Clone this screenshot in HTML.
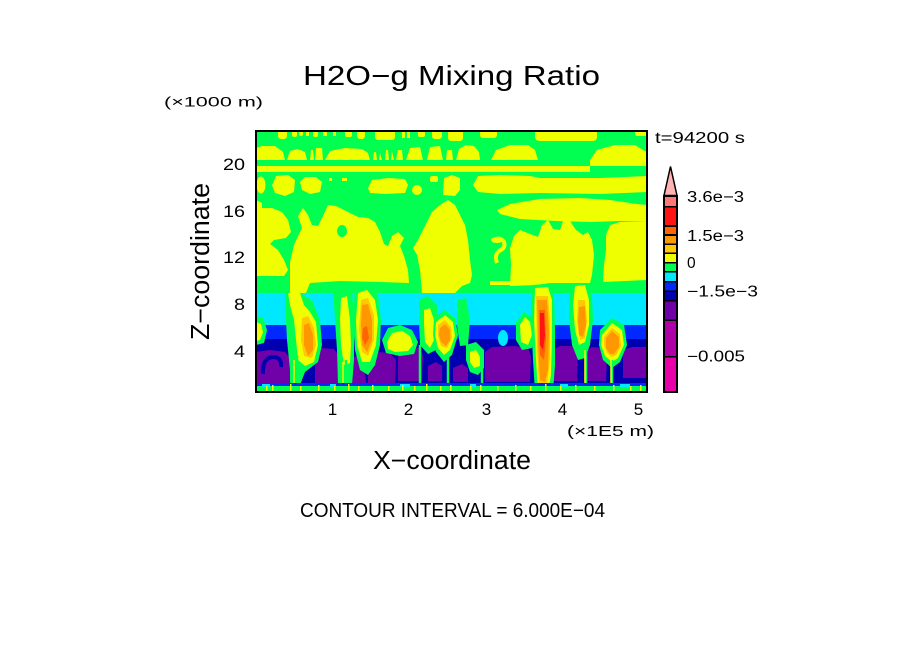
<!DOCTYPE html>
<html><head><meta charset="utf-8"><style>
html,body{margin:0;padding:0;background:#fff;width:904px;height:654px;overflow:hidden}
svg{display:block}
text{font-family:"Liberation Sans",sans-serif;fill:#000}
</style></head><body>
<svg width="904" height="654" viewBox="0 0 904 654" xmlns="http://www.w3.org/2000/svg">
<defs><clipPath id="pc"><rect x="256" y="131" width="391" height="261"/></clipPath></defs>
<g clip-path="url(#pc)">
<rect x="256" y="131" width="391" height="261" fill="#00ff50"/>
<g fill="#f0ff00">
<rect x="278" y="129" width="9" height="10" rx="3"/>
<rect x="292" y="129" width="5" height="8" rx="2"/>
<rect x="299" y="129" width="4" height="7" rx="2"/>
<rect x="306" y="131" width="3" height="5"/>
<rect x="313" y="129" width="5" height="8" rx="2"/>
<rect x="323" y="131" width="4" height="5"/>
<rect x="333" y="131" width="3" height="5"/>
<rect x="345" y="129" width="7" height="8" rx="2"/>
<rect x="357" y="129" width="8" height="10" rx="3"/>
<rect x="375" y="129" width="20" height="11" rx="3"/>
<rect x="402" y="131" width="3" height="7"/>
<rect x="407" y="131" width="3" height="7"/>
<rect x="418" y="129" width="7" height="8" rx="2"/>
<rect x="432" y="129" width="10" height="10" rx="3"/>
<rect x="448" y="129" width="15" height="12" rx="3"/>
<rect x="480" y="129" width="17" height="9" rx="3"/>
<rect x="535" y="129" width="62" height="12" rx="4"/>
<rect x="635" y="129" width="12" height="7" rx="2"/>

<path d="M256,160 L256,148 L262,146 L275,146 L283,152 L285,160 Z"/>
<path d="M287,160 L290,151 L298,149 L305,152 L307,160 Z"/>
<path d="M310,160 L311,150 L313,150 L314,160 Z"/>
<path d="M315,160 L316,148 L322,148 L323,160 Z"/>
<path d="M325,160 L330,151 L345,148 L362,149 L368,153 L370,160 Z"/>
<path d="M373,160 L374,152 L376,152 L377,160 Z"/>
<path d="M379,160 L380,153 L382,160 Z"/>
<path d="M385,160 L386,150 L388,150 L389,160 Z"/>
<path d="M391,160 L392,151 L394,160 Z"/>
<path d="M396,160 L398,150 L402,150 L403,160 Z"/>
<path d="M406,160 L410,148 L420,147 L423,160 Z"/>
<path d="M427,160 L430,147 L440,146 L443,160 Z"/>
<path d="M446,160 L447,150 L452,150 L453,160 Z"/>
<path d="M456,160 L459,149 L466,145 L474,146 L479,152 L480,160 Z"/>
<path d="M491,160 L496,150 L510,145 L528,145 L535,150 L538,160 Z"/>
<path d="M590,160 L597,150 L615,145 L635,145 L643,150 L647,152 L647,160 Z"/>

<rect x="256" y="166" width="334" height="6"/>
<rect x="590" y="160" width="57" height="6"/>

<ellipse cx="261" cy="185" rx="4.5" ry="8.5"/>
<path d="M272,185 L276,176 L288,175 L295,180 L294,192 L285,196 L275,193 Z"/>
<path d="M300,182 L305,177 L316,177 L322,182 L320,192 L310,194 L302,190 Z"/>
<rect x="329" y="178" width="3" height="3"/>
<rect x="342" y="178" width="5" height="3"/>
<path d="M368,188 L372,180 L388,178 L405,179 L408,185 L405,193 L385,194 L370,193 Z"/>
<circle cx="417" cy="190" r="5"/>
<rect x="430" y="176" width="8" height="6" rx="2"/>
<path d="M443,195 L444,178 L452,175 L460,178 L460,190 L455,196 Z"/>
<path d="M473,185 L478,176 L500,175 L530,176 L540,178 L600,178 L647,176 L647,192 L600,194 L540,193 L500,194 L478,192 Z"/>

<path d="M497,210 L510,204 L540,199 L580,198 L610,200 L637,204 L647,205 L647,222 L620,221 L590,222 L555,221 L520,219 L500,214 Z"/>

<path d="M256,200 L262,203 L262,208 L272,208 L282,212 L288,220 L291,232 L286,238 L274,240 L270,244 L278,250 L284,260 L288,270 L284,276 L256,276 Z"/>
<path d="M290,293 L290,262 L294,245 L298,236 L302,228 L298,216 L303,208 L308,215 L312,225 L318,226 L324,214 L328,205 L336,206 L346,211 L358,217 L368,218 L375,222 L380,232 L384,244 L388,246 L392,236 L398,232 L404,238 L400,246 L404,256 L408,270 L409,283 L380,282 L340,281 L310,283 L306,293 Z"/>
<path d="M422,293 L420,270 L417,255 L413,248 L418,240 L425,226 L432,212 L440,205 L448,200 L455,205 L460,215 L465,225 L468,240 L470,260 L472,275 L470,283 L462,286 L455,293 Z"/>
<ellipse cx="497" cy="240" rx="6" ry="3"/>
<path d="M510,286 L511,265 L510,248 L514,236 L520,230 L530,234 L538,237 L542,225 L548,220 L553,229 L560,230 L563,221 L570,221 L576,230 L583,235 L588,232 L592,240 L594,255 L592,275 L590,283 L550,283 L537,285 Z"/>
<path d="M603,282 L604,265 L606,250 L606,235 L610,225 L620,222 L647,222 L647,280 L625,281 Z"/>
<rect x="490" y="281" width="22" height="4"/>
</g>
<ellipse cx="342" cy="231" rx="5" ry="6" fill="#00ff50"/>
<path d="M492,241 Q500,236 504,242 Q506,248 499,251 Q494,255 497,263" stroke="#f0ff00" stroke-width="4" fill="none"/>

<rect x="256" y="293" width="391" height="99" fill="#00e8ff"/>
<rect x="256" y="325" width="391" height="60" fill="#0028ff"/>
<rect x="256" y="339" width="391" height="45" fill="#0000b0"/>
<ellipse cx="503" cy="338" rx="5" ry="8" fill="#00e8ff"/>

<g fill="#7000a8">
<path d="M256,352 L270,350 L285,352 L292,360 L292,383 L256,383 Z"/>
<path d="M315,352 L322,348 L334,349 L339,356 L338,383 L315,383 Z"/>
<path d="M349,360 L356,356 L364,358 L366,383 L349,383 Z"/>
<path d="M368,356 L378,352 L390,353 L396,360 L395,383 L368,383 Z"/>
<path d="M398,350 L408,346 L420,348 L423,356 L422,381 L398,381 Z"/>
<path d="M428,366 L436,362 L442,366 L442,381 L428,381 Z"/>
<path d="M453,368 L462,364 L468,368 L468,382 L453,382 Z"/>
<path d="M485,352 L492,347 L515,346 L528,348 L531,356 L530,382 L485,382 Z"/>
<path d="M552,350 L560,346 L572,346 L578,352 L577,381 L552,381 Z"/>
<path d="M584,352 L592,347 L603,348 L607,356 L606,381 L584,381 Z"/>
<path d="M623,350 L632,347 L647,347 L647,378 L623,378 Z"/>
</g>
<path d="M263,374 Q262,357 274,357 Q282,358 281,367" stroke="#0000b0" stroke-width="4" fill="none"/>

<!-- left edge patch -->
<path d="M256,316 L263,318 L267,330 L264,343 L256,345 Z" fill="#00ff50"/>
<path d="M256,322 L261,324 L263,332 L260,340 L256,341 Z" fill="#f0ff00"/>

<!-- plume A -->
<path d="M285,293 L300,293 L312,300 L320,320 L322,345 L318,362 L305,372 L300,385 L290,385 L290,370 L287,340 L286,320 Z" fill="#00ff50"/>
<path d="M288,293 L300,293 L304,305 L310,312 L316,322 L318,345 L314,362 L305,366 L298,360 L296,340 L294,320 L290,305 Z" fill="#f0ff00"/>
<path d="M302,318 L308,316 L314,328 L316,345 L312,358 L304,356 L301,340 Z" fill="#ffc800"/>
<path d="M304,325 L309,323 L313,335 L313,350 L308,356 L304,345 Z" fill="#ff9800"/>
<!-- plume B -->
<path d="M333,288 L345,285 L352,290 L354,320 L354,360 L352,385 L338,385 L337,350 L335,320 Z" fill="#00ff50"/>
<path d="M341,298 L347,296 L350,320 L351,345 L350,363 L344,365 L341,345 L340,320 Z" fill="#f0ff00"/>
<!-- plume C -->
<path d="M355,288 L368,286 L378,295 L381,320 L380,345 L375,365 L368,375 L360,370 L355,350 L353,320 Z" fill="#00ff50"/>
<path d="M358,293 L367,290 L375,300 L378,320 L376,345 L370,362 L362,362 L357,345 L356,320 Z" fill="#f0ff00"/>
<path d="M361,300 L368,298 L374,315 L374,340 L368,356 L362,352 L359,330 Z" fill="#ffc800"/>
<path d="M362,305 L368,304 L372,320 L372,340 L367,352 L362,345 L361,325 Z" fill="#ff9800"/>
<path d="M363,328 L367,326 L369,338 L365,345 L362,338 Z" fill="#ff6400"/>
<!-- blob D -->
<path d="M382,340 L388,328 L400,325 L412,330 L418,342 L414,354 L400,356 L386,353 Z" fill="#00ff50"/>
<path d="M387,342 L392,333 L402,331 L410,336 L413,345 L408,351 L395,352 L388,349 Z" fill="#f0ff00"/>
<!-- E1 -->
<path d="M419,300 L428,296 L437,305 L438,330 L436,350 L428,354 L420,345 L419,320 Z" fill="#00ff50"/>
<path d="M424,310 L430,308 L434,320 L434,340 L430,348 L425,342 L424,325 Z" fill="#f0ff00"/>
<!-- E2 diamond -->
<path d="M434,318 L445,310 L455,318 L458,335 L452,355 L444,362 L436,352 L433,335 Z" fill="#00ff50"/>
<path d="M436,322 L445,315 L453,322 L455,336 L450,350 L444,355 L438,348 L435,335 Z" fill="#f0ff00"/>
<path d="M438,325 L445,320 L451,327 L452,338 L447,348 L441,346 L438,336 Z" fill="#ffc800"/>
<path d="M440,328 L445,324 L450,330 L450,340 L446,346 L441,342 L439,335 Z" fill="#ff9800"/>
<path d="M457,300 L466,298 L470,320 L468,345 L460,346 L457,325 Z" fill="#00ff50"/>
<!-- F -->
<path d="M466,345 L476,342 L484,350 L484,368 L478,375 L470,372 L466,360 Z" fill="#00ff50"/>
<path d="M470,352 L476,350 L480,357 L480,366 L474,368 L470,362 Z" fill="#f0ff00"/>
<!-- G -->
<path d="M516,322 L524,312 L533,318 L535,335 L532,348 L522,350 L516,340 Z" fill="#00ff50"/>
<path d="M520,325 L525,317 L530,322 L532,335 L528,345 L521,342 Z" fill="#f0ff00"/>
<!-- H main plume -->
<path d="M532,285 L548,284 L554,295 L555,330 L555,365 L553,392 L535,392 L533,360 L531,320 Z" fill="#00ff50"/>
<path d="M535,288 L548,287 L552,300 L552,340 L551,375 L548,392 L538,392 L536,360 L534,320 Z" fill="#f0ff00"/>
<path d="M536,296 L548,296 L550,320 L550,360 L547,385 L539,385 L537,350 Z" fill="#ffc800"/>
<path d="M537,300 L547,300 L549,330 L548,370 L545,382 L540,380 L538,345 Z" fill="#ff9800"/>
<path d="M539,310 L545,310 L546,340 L544,360 L540,355 Z" fill="#ff6400"/>
<path d="M540,313 L544,313 L545,335 L543,350 L540,345 Z" fill="#ff1414"/>
<!-- I -->
<path d="M570,285 L585,283 L592,295 L593,320 L590,345 L585,358 L578,360 L572,345 L569,320 Z" fill="#00ff50"/>
<path d="M575,286 L585,285 L589,300 L589,325 L585,342 L579,345 L575,330 L573,305 Z" fill="#f0ff00"/>
<path d="M578,300 L585,300 L587,320 L585,338 L580,340 L577,322 Z" fill="#ffc800"/>
<path d="M579,307 L585,306 L586,325 L583,337 L579,335 L578,320 Z" fill="#ff9800"/>
<!-- J diamond -->
<path d="M600,330 L612,318 L624,325 L627,345 L620,362 L612,368 L603,360 L599,345 Z" fill="#00ff50"/>
<path d="M602,335 L612,323 L622,330 L624,345 L618,358 L612,362 L605,356 L601,345 Z" fill="#f0ff00"/>
<path d="M604,337 L612,328 L620,334 L621,346 L616,355 L612,357 L607,353 L604,346 Z" fill="#ffc800"/>
<path d="M606,338 L612,331 L619,337 L619,347 L614,354 L610,354 L606,348 Z" fill="#ff9800"/>

<g stroke="#00ff50" stroke-width="2.5">
<line x1="297" y1="355" x2="297" y2="392"/>
<line x1="340" y1="360" x2="340" y2="392"/>
<line x1="346" y1="360" x2="346" y2="392"/>
<line x1="420" y1="345" x2="420" y2="392"/>
<line x1="448" y1="355" x2="448" y2="392"/>
<line x1="482" y1="365" x2="482" y2="392"/>
<line x1="586" y1="345" x2="586" y2="392"/>
<line x1="612" y1="360" x2="612" y2="392"/>
</g>
<g stroke="#f0ff00" stroke-width="1.5">
<line x1="294" y1="360" x2="294" y2="392"/>
<line x1="343" y1="362" x2="343" y2="392"/>
<line x1="611" y1="360" x2="611" y2="392"/>
<line x1="585" y1="350" x2="585" y2="392"/>
</g>

<rect x="256" y="383" width="391" height="3" fill="#0028ff"/>
<rect x="256" y="386" width="391" height="6" fill="#00ff50"/>
<g fill="#00e8ff">
<rect x="262" y="384" width="8" height="3"/><rect x="330" y="384" width="6" height="3"/>
<rect x="400" y="384" width="10" height="3"/><rect x="470" y="384" width="6" height="3"/>
<rect x="560" y="384" width="8" height="3"/><rect x="620" y="384" width="10" height="3"/>
</g>
<g fill="#f0ff00">
<rect x="266" y="386" width="1.5" height="6"/><rect x="272" y="385" width="1.5" height="7"/>
<rect x="290" y="384" width="1.5" height="8"/><rect x="300" y="386" width="1.5" height="6"/>
<rect x="318" y="385" width="1.5" height="7"/><rect x="334" y="386" width="1.5" height="6"/>
<rect x="348" y="384" width="1.5" height="8"/><rect x="358" y="386" width="1.5" height="6"/>
<rect x="372" y="385" width="1.5" height="7"/><rect x="388" y="386" width="1.5" height="6"/>
<rect x="402" y="385" width="1.5" height="7"/><rect x="414" y="386" width="1.5" height="6"/>
<rect x="426" y="384" width="1.5" height="8"/><rect x="440" y="386" width="1.5" height="6"/>
<rect x="450" y="385" width="1.5" height="7"/><rect x="470" y="386" width="1.5" height="6"/>
<rect x="480" y="385" width="1.5" height="7"/><rect x="497" y="386" width="1.5" height="6"/>
<rect x="515" y="385" width="1.5" height="7"/><rect x="530" y="386" width="1.5" height="6"/>
<rect x="545" y="384" width="1.5" height="8"/><rect x="560" y="386" width="1.5" height="6"/>
<rect x="575" y="385" width="1.5" height="7"/><rect x="594" y="386" width="1.5" height="6"/>
<rect x="613" y="385" width="1.5" height="7"/><rect x="630" y="386" width="1.5" height="6"/>
<rect x="640" y="385" width="1.5" height="7"/>
</g>
</g>
<rect x="256" y="131" width="391" height="261" fill="none" stroke="#000" stroke-width="2"/>

<!-- colorbar -->
<polygon points="670.5,166.5 664,195.5 677,195.5" fill="#ffb4b4" stroke="#000" stroke-width="1.5"/>
<rect x="663" y="195" width="15" height="198" fill="#000"/>
<rect x="665" y="197" width="11" height="9" fill="#ff7878"/>
<rect x="665" y="207.5" width="11" height="17.5" fill="#ff1414"/>
<rect x="665" y="227" width="11" height="7" fill="#ff6400"/>
<rect x="665" y="236" width="11" height="7.5" fill="#ff9800"/>
<rect x="665" y="245" width="11" height="7.5" fill="#ffc800"/>
<rect x="665" y="254" width="11" height="8" fill="#f0ff00"/>
<rect x="665" y="263.5" width="11" height="7.5" fill="#00ff50"/>
<rect x="665" y="272.5" width="11" height="8.5" fill="#00e8ff"/>
<rect x="665" y="282.5" width="11" height="8" fill="#0028ff"/>
<rect x="665" y="292" width="11" height="8" fill="#0000b0"/>
<rect x="665" y="301.5" width="11" height="18" fill="#7000a8"/>
<rect x="665" y="321" width="11" height="35" fill="#b000a8"/>
<rect x="665" y="357.5" width="11" height="33.5" fill="#e800a8"/>

<text x="687" y="202" font-size="15.5" textLength="57" lengthAdjust="spacingAndGlyphs">3.6e−3</text>
<text x="687" y="241" font-size="15.5" textLength="57" lengthAdjust="spacingAndGlyphs">1.5e−3</text>
<text x="687" y="268" font-size="15.5">0</text>
<text x="687" y="296.5" font-size="15.5" textLength="71" lengthAdjust="spacingAndGlyphs">−1.5e−3</text>
<text x="687" y="361.5" font-size="15.5" textLength="58" lengthAdjust="spacingAndGlyphs">−0.005</text>

<text x="655" y="143" font-size="15.5" textLength="90" lengthAdjust="spacingAndGlyphs">t=94200 s</text>

<text x="303" y="85" font-size="27.5" textLength="297" lengthAdjust="spacingAndGlyphs">H2O−g Mixing Ratio</text>
<text x="164" y="106.5" font-size="14" textLength="99" lengthAdjust="spacingAndGlyphs">(×1000 m)</text>

<text x="223" y="170" font-size="16.3" textLength="22" lengthAdjust="spacingAndGlyphs">20</text>
<text x="223" y="217" font-size="16.3" textLength="22" lengthAdjust="spacingAndGlyphs">16</text>
<text x="223" y="263" font-size="16.3" textLength="22" lengthAdjust="spacingAndGlyphs">12</text>
<text x="234" y="310" font-size="16.3" textLength="11" lengthAdjust="spacingAndGlyphs">8</text>
<text x="234" y="357" font-size="16.3" textLength="11" lengthAdjust="spacingAndGlyphs">4</text>

<text transform="translate(209,340) rotate(-90)" x="0" y="0" font-size="25.5" textLength="157" lengthAdjust="spacingAndGlyphs">Z−coordinate</text>

<text x="332.5" y="415" font-size="17" text-anchor="middle">1</text>
<text x="408.5" y="415" font-size="17" text-anchor="middle">2</text>
<text x="486.5" y="415" font-size="17" text-anchor="middle">3</text>
<text x="562.5" y="415" font-size="17" text-anchor="middle">4</text>
<text x="638.5" y="415" font-size="17" text-anchor="middle">5</text>

<text x="567" y="436" font-size="14.5" textLength="87" lengthAdjust="spacingAndGlyphs">(×1E5 m)</text>
<text x="373" y="469" font-size="25.5" textLength="158" lengthAdjust="spacingAndGlyphs">X−coordinate</text>
<text x="300" y="517" font-size="20" textLength="305" lengthAdjust="spacingAndGlyphs">CONTOUR INTERVAL = 6.000E−04</text>
</svg>
</body></html>
